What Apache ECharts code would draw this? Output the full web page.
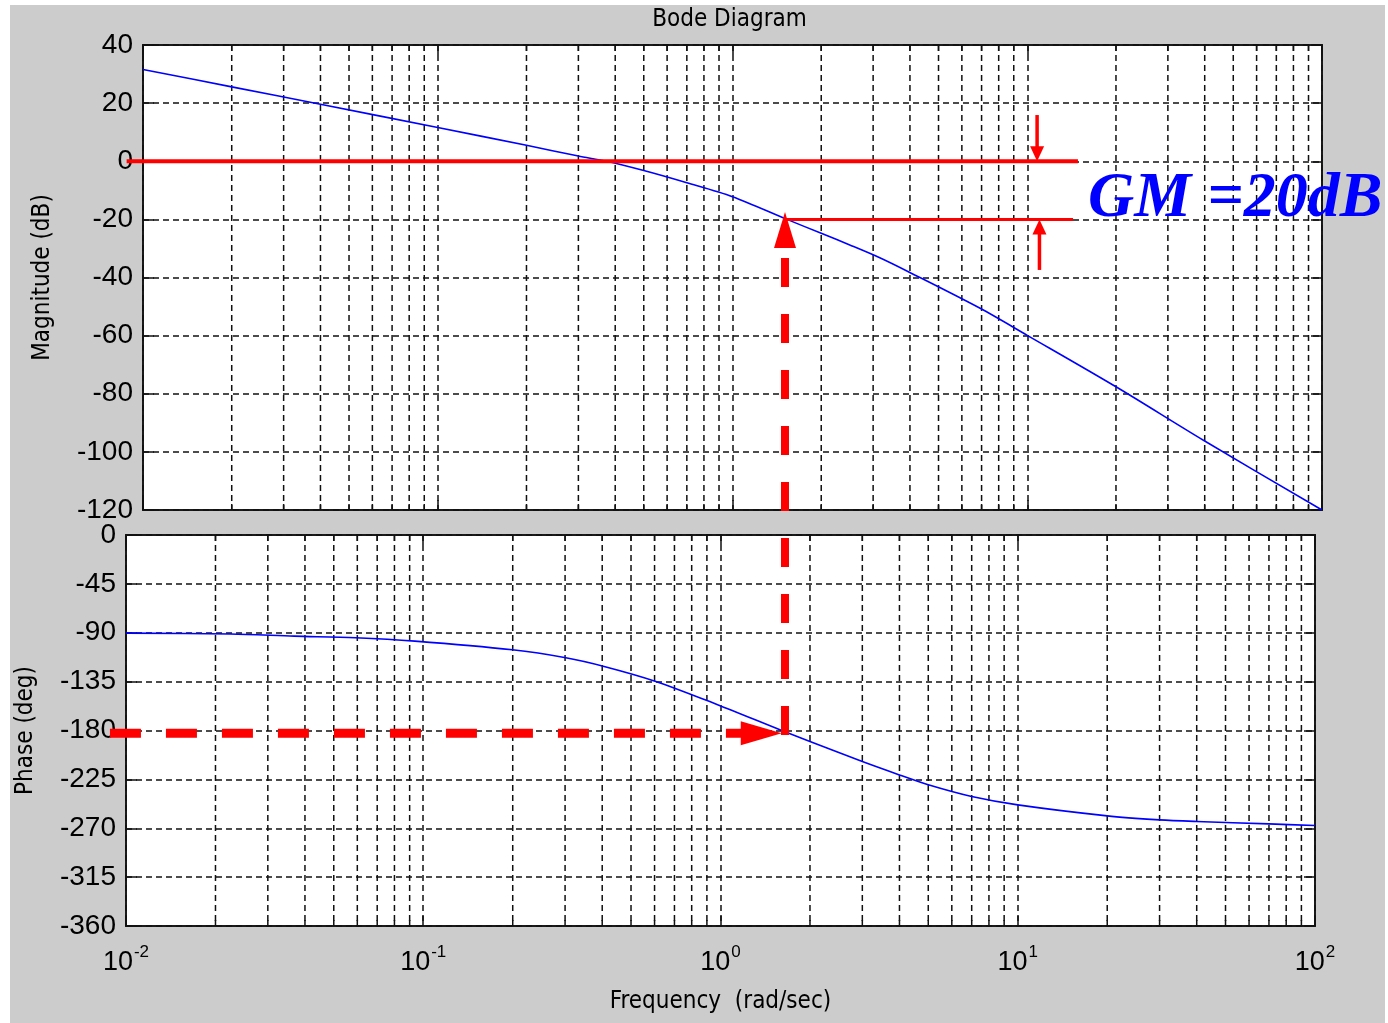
<!DOCTYPE html>
<html>
<head>
<meta charset="utf-8">
<script src="https://cdn.jsdelivr.net/npm/echarts@6/dist/echarts.min.js"></script>
<style>
html,body{margin:0;padding:0;background:#ffffff;}
#bg{position:absolute;left:10px;top:5px;width:1375px;height:1018px;background:#cccccc;}
#c{position:absolute;left:0;top:0;width:1388px;height:1023px;}
</style>
</head>
<body>
<div id="bg"></div>
<div id="c"></div>
<script>
// ---------- data ----------
const freqRange = [0.01, 100];
const minorMultipliers = [2, 3, 4, 5, 6, 7, 8, 9];
const decadeStarts = [0.01, 0.1, 1, 10];

const magRange = [-120, 40];
const magStep = 20;
const phaseRange = [-360, 0];
const phaseStep = 45;

const magFreq = [0.01, 0.02, 0.04, 0.1, 0.2, 0.3, 0.374, 0.5, 0.7, 1, 1.53, 2, 2.5, 3.16, 3.95, 6.92, 10, 20, 39.6, 100];
const magDb   = [31.6, 25.6, 19.6, 11.6, 5.5, 1.8, 0, -3.2, -7.4, -12.2, -20, -24.8, -28.8, -33.2, -38, -50.6, -59.9, -77.6, -96, -120];

const phaseFreq = [0.01, 0.0225, 0.0368, 0.0591, 0.0937, 0.1994, 0.3017, 0.406, 0.606, 0.973, 1.607, 2, 3, 4, 5, 7, 10, 20, 30, 40, 70, 100];
const phaseDeg  = [-90.3, -91.2, -93.1, -94.6, -97.7, -105.7, -113, -121, -134.8, -156, -180, -190.1, -208.6, -220.9, -230, -240.8, -248.5, -258.6, -262.3, -263.8, -266, -267.5];

// annotations (data coordinates)
const titleText = 'Bode Diagram';
const magName = 'Magnitude (dB)';
const phaseName = 'Phase (deg)';
const freqName = 'Frequency  (rad/sec)';
const gmText = 'GM =20dB';
const zeroLineFreq = [0.0088, 14.86];      // red line at 0 dB
const gmLineFreq = [1.507, 14.3];          // red line at -20 dB
const gmLevels = [0, -20];
const smallArrowFreq = [10.8, 11.0];       // down arrow, up arrow
const smallArrowFrom = [15.9, -37.4];
const crossFreqTop = 1.507;                // vertical dashed arrow (top axis)
const crossTipDb = -17.5;
const crossEndDeg = -188.5;
const phaseArrowFreq = [0.00883, 1.607];   // horizontal dashed arrow
const phaseArrowDeg = -182.5;

// ---------- chart ----------
const minorFreqs = [];
decadeStarts.forEach(d => minorMultipliers.forEach(m => minorFreqs.push(+(d * m).toPrecision(6))));

const numFont = '"Liberation Sans", Arial, sans-serif';
const narrowFont = '"Liberation Sans Narrow","DejaVu Sans Condensed",sans-serif';
const gridDash = [6, 4];
const gridColor = '#111';

function minorRender(yMin, yMax) {
  return function (params, api) {
    const v = api.value(0);
    const p1 = api.coord([v, yMax]);
    const p2 = api.coord([v, yMin]);
    return {
      type: 'group',
      children: [
        {type: 'line', shape: {x1: p1[0], y1: p1[1], x2: p2[0], y2: p2[1]}, style: {stroke: gridColor, lineWidth: 1.5, lineDash: gridDash}},
        {type: 'line', shape: {x1: p1[0], y1: p1[1], x2: p1[0], y2: p1[1] + 6}, style: {stroke: gridColor, lineWidth: 1.5}},
        {type: 'line', shape: {x1: p2[0], y1: p2[1], x2: p2[0], y2: p2[1] - 6}, style: {stroke: gridColor, lineWidth: 1.5}}
      ]
    };
  };
}

function xAx(gridIndex, position, showLabels) {
  const ax = {
    type: 'log', logBase: 10, gridIndex: gridIndex, position: position,
    min: freqRange[0], max: freqRange[1],
    axisLine: {show: false, onZero: false},
    axisTick: {show: true, inside: true, length: 10, lineStyle: {color: gridColor, width: 1.5}},
    splitLine: {show: position === 'bottom', lineStyle: {color: gridColor, width: 1.5, type: gridDash}},
    axisLabel: {show: false}
  };
  if (showLabels) {
    ax.axisLabel = {
      show: true, margin: 18,
      formatter: v => '{b|10}{s|' + Math.round(Math.log10(v)) + '}',
      rich: {
        b: {fontSize: 27, fontFamily: numFont, color: '#000', verticalAlign: 'bottom'},
        s: {fontSize: 17, fontFamily: numFont, color: '#000', verticalAlign: 'bottom', padding: [0, 0, 15, 1]}
      }
    };
    ax.name = freqName;
    ax.nameLocation = 'middle';
    ax.nameGap = 64;
    ax.nameTextStyle = {fontSize: 24, fontFamily: narrowFont, color: '#000'};
  }
  return ax;
}

function yAx(gridIndex, position, range, step, name) {
  const ax = {
    type: 'value', gridIndex: gridIndex, position: position,
    min: range[0], max: range[1], interval: step,
    axisLine: {show: false, onZero: false},
    axisTick: {show: true, inside: true, length: 11, lineStyle: {color: gridColor, width: 1.5}},
    splitLine: {show: position === 'left', lineStyle: {color: gridColor, width: 1.5, type: gridDash}},
    axisLabel: {show: position === 'left', margin: 10, fontSize: 28, fontFamily: numFont, color: '#000'}
  };
  if (name) {
    ax.name = name;
    ax.nameLocation = 'middle';
    ax.nameGap = 88;
    ax.nameTextStyle = {fontSize: 24, fontFamily: narrowFont, color: '#000'};
  }
  return ax;
}

const chart = echarts.init(document.getElementById('c'), null, {renderer: 'canvas'});
const option = {
  animation: false,
  backgroundColor: 'transparent',
  grid: [
    {left: 143, top: 45, width: 1179, height: 465, show: true, backgroundColor: '#ffffff', borderColor: '#1a1a1a', borderWidth: 2},
    {left: 126, top: 535, width: 1189, height: 391, show: true, backgroundColor: '#ffffff', borderColor: '#1a1a1a', borderWidth: 2}
  ],
  xAxis: [xAx(0, 'bottom', false), xAx(0, 'top', false), xAx(1, 'bottom', true), xAx(1, 'top', false)],
  yAxis: [
    yAx(0, 'left', magRange, magStep, magName), yAx(0, 'right', magRange, magStep, null),
    yAx(1, 'left', phaseRange, phaseStep, phaseName), yAx(1, 'right', phaseRange, phaseStep, null)
  ],
  series: [
    {type: 'custom', xAxisIndex: 0, yAxisIndex: 0, renderItem: minorRender(magRange[0], magRange[1]),
     data: minorFreqs.map(f => [f, 0]), silent: true, z: 1},
    {type: 'custom', xAxisIndex: 2, yAxisIndex: 2, renderItem: minorRender(phaseRange[0], phaseRange[1]),
     data: minorFreqs.map(f => [f, 0]), silent: true, z: 1},
    {type: 'line', xAxisIndex: 0, yAxisIndex: 0, data: magFreq.map((f, i) => [f, magDb[i]]),
     showSymbol: false, smooth: 0.3, lineStyle: {color: '#0000ff', width: 1.6}, z: 3},
    {type: 'line', xAxisIndex: 2, yAxisIndex: 2, data: phaseFreq.map((f, i) => [f, phaseDeg[i]]),
     showSymbol: false, smooth: 0.3, lineStyle: {color: '#0000ff', width: 1.6}, z: 3}
  ]
};
chart.setOption(option);

// ---------- annotations placed via the axes ----------
const P = (g, x, y) => chart.convertToPixel({gridIndex: g}, [x, y]);
const red = '#ff0000';
const els = [];
function seg(a, b, w, dash) {
  els.push({type: 'line', z: 50, shape: {x1: a[0], y1: a[1], x2: b[0], y2: b[1]},
            style: {stroke: red, lineWidth: w, lineDash: dash || null}});
}
function tri(p1, p2, p3) {
  els.push({type: 'polygon', z: 51, shape: {points: [p1, p2, p3]}, style: {fill: red}});
}
// 0 dB and -20 dB red lines
seg(P(0, zeroLineFreq[0], gmLevels[0]), P(0, zeroLineFreq[1], gmLevels[0]), 4);
seg(P(0, gmLineFreq[0], gmLevels[1]), P(0, gmLineFreq[1], gmLevels[1]), 3);
// small arrows
{
  const t1 = P(0, smallArrowFreq[0], gmLevels[0]);
  const s1 = P(0, smallArrowFreq[0], smallArrowFrom[0]);
  seg(s1, [t1[0], t1[1] - 14], 3.5);
  tri([t1[0], t1[1]], [t1[0] - 7, t1[1] - 15], [t1[0] + 7, t1[1] - 15]);
  const t2 = P(0, smallArrowFreq[1], gmLevels[1]);
  const s2 = P(0, smallArrowFreq[1], smallArrowFrom[1]);
  seg(s2, [t2[0], t2[1] + 14], 3.5);
  tri([t2[0], t2[1]], [t2[0] - 7, t2[1] + 15], [t2[0] + 7, t2[1] + 15]);
}
// vertical dashed arrow
{
  const tip = P(0, crossFreqTop, crossTipDb);
  const end = P(1, phaseArrowFreq[1], crossEndDeg);
  const x = tip[0];
  tri([x, tip[1]], [x - 11, tip[1] + 36], [x + 11, tip[1] + 36]);
  seg([x, tip[1] + 46], [x, end[1]], 8, [29, 27]);
}
// horizontal dashed arrow
{
  const st = P(1, phaseArrowFreq[0], phaseArrowDeg);
  const tip = P(1, phaseArrowFreq[1], phaseArrowDeg);
  seg(st, [tip[0] - 30, tip[1]], 9, [31, 25]);
  tri([tip[0], tip[1]], [tip[0] - 41, tip[1] - 12], [tip[0] - 41, tip[1] + 12]);
}
// texts
const topGridLeft = P(0, freqRange[0], magRange[1]);
const topGridRight = P(0, freqRange[1], magRange[1]);
els.push({type: 'text', z: 60, x: (topGridLeft[0] + topGridRight[0]) / 2 - 3, y: 20,
  style: {text: titleText, font: '24px "Liberation Sans Narrow","DejaVu Sans Condensed",sans-serif', fill: '#000',
          textAlign: 'center', textVerticalAlign: 'middle', align: 'center', verticalAlign: 'middle'}});
{
  const gmPos = P(0, gmLineFreq[1], (gmLevels[0] + gmLevels[1]) / 2);
  els.push({type: 'text', z: 60, x: gmPos[0] + 15, y: gmPos[1] + 9,
    style: {text: gmText, font: 'italic bold 64px "Liberation Serif",serif', fill: '#0000ff',
            textAlign: 'left', textVerticalAlign: 'middle', align: 'left', verticalAlign: 'middle'}});
}
chart.setOption({graphic: {elements: els}});
</script>
</body>
</html>
